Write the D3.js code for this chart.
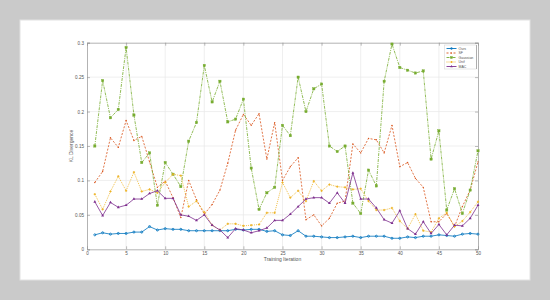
<!DOCTYPE html>
<html>
<head>
<meta charset="utf-8">
<script src="https://cdn.jsdelivr.net/npm/d3@7"></script>
<style>
  body { margin: 0; background: #cacaca; }
  svg { display: block; font-family: "Liberation Sans", Arial, sans-serif; }
</style>
</head>
<body>
<div id="chart"></div>
<script>
// iteration index 1..50
var iters = d3.range(1, 51);
var yTicks = [0, 0.05, 0.1, 0.15, 0.2, 0.25, 0.3];
var xTicks = [0, 5, 10, 15, 20, 25, 30, 35, 40, 45, 50];
var names = ["Ours", "SF", "Gaussian", "Unif", "MAC"];

var ours = [0.021,0.024,0.022,0.023,0.023,0.025,0.025,0.033,0.028,0.030,
            0.029,0.029,0.027,0.027,0.027,0.027,0.027,0.027,0.029,0.028,
            0.029,0.029,0.026,0.027,0.021,0.020,0.027,0.019,0.019,0.018,
            0.017,0.017,0.018,0.019,0.017,0.019,0.019,0.019,0.016,0.016,
            0.018,0.017,0.019,0.019,0.021,0.020,0.019,0.022,0.023,0.022];
var sf = [0.097,0.113,0.162,0.148,0.187,0.158,0.164,0.127,0.090,0.099,
          0.075,0.046,0.100,0.072,0.051,0.065,0.086,0.125,0.173,0.196,
          0.180,0.197,0.131,0.184,0.100,0.120,0.133,0.043,0.050,0.034,
          0.045,0.067,0.070,0.153,0.140,0.161,0.159,0.140,0.180,0.120,
          0.126,0.103,0.090,0.040,0.040,0.052,0.033,0.062,0.086,0.127];
var gauss = [0.150,0.245,0.191,0.203,0.293,0.195,0.126,0.140,0.064,0.126,
             0.109,0.091,0.157,0.184,0.267,0.214,0.244,0.185,0.189,0.218,
             0.118,0.058,0.082,0.090,0.180,0.165,0.250,0.200,0.233,0.240,
             0.150,0.142,0.150,0.067,0.052,0.115,0.092,0.244,0.298,0.264,
             0.260,0.256,0.259,0.131,0.172,0.057,0.088,0.052,0.086,0.143];
var unif = [0.080,0.058,0.084,0.106,0.085,0.112,0.084,0.087,0.082,0.097,
            0.109,0.107,0.062,0.070,0.054,0.035,0.028,0.037,0.037,0.034,
            0.035,0.036,0.053,0.053,0.097,0.075,0.085,0.070,0.099,0.085,
            0.094,0.091,0.090,0.087,0.088,0.070,0.057,0.057,0.060,0.041,
            0.030,0.051,0.027,0.025,0.045,0.053,0.033,0.041,0.054,0.069];
var mac = [0.069,0.049,0.068,0.061,0.064,0.073,0.073,0.081,0.085,0.074,
           0.074,0.050,0.048,0.042,0.050,0.035,0.028,0.017,0.030,0.028,
           0.024,0.027,0.031,0.042,0.042,0.051,0.062,0.073,0.075,0.075,
           0.067,0.082,0.067,0.111,0.073,0.073,0.060,0.043,0.038,0.056,
           0.030,0.022,0.040,0.023,0.036,0.021,0.035,0.034,0.045,0.064];

var series = [
  {name: names[0], vals: ours,  color: "#0072BD", dash: null,      marker: "circle"},
  {name: names[1], vals: sf,    color: "#D95319", dash: "2,1.5",   marker: "dot"},
  {name: names[2], vals: gauss, color: "#77AC30", dash: "3,1,1,1", marker: "square"},
  {name: names[3], vals: unif,  color: "#EDB120", dash: "1,1",     marker: "cross"},
  {name: names[4], vals: mac,   color: "#7E2F8E", dash: null,      marker: "triangle"}
];

var svg = d3.select("#chart").append("svg").attr("width", 550).attr("height", 300);
svg.append("rect").attr("width", 550).attr("height", 300).attr("fill", "#cacaca");
svg.append("rect").attr("x", 20).attr("y", 20).attr("width", 510).attr("height", 260)
   .attr("fill", "#fff").attr("stroke", "#e2e2e2");

var pLeft = 87, pRight = 478, pTop = 42.7, pBottom = 249.3;
var x = d3.scaleLinear().domain([0, 50]).range([pLeft, pRight]);
var y = d3.scaleLinear().domain([0, 0.3]).range([pBottom, pTop]);

// grid
var g = svg.append("g");
g.selectAll("line.vg").data(xTicks.slice(1, -1)).enter().append("line")
  .attr("x1", d => x(d)).attr("x2", d => x(d)).attr("y1", pTop).attr("y2", pBottom)
  .attr("stroke", "#e8e8e8").attr("stroke-width", 0.7);
g.selectAll("line.hg").data(yTicks.slice(1, -1)).enter().append("line")
  .attr("x1", pLeft).attr("x2", pRight).attr("y1", d => y(d)).attr("y2", d => y(d))
  .attr("stroke", "#e8e8e8").attr("stroke-width", 0.7);

// axes (MATLAB box style, ticks inward)
var xb = svg.append("g").attr("transform", "translate(0," + pBottom + ")")
  .call(d3.axisBottom(x).tickValues(xTicks).tickSize(-3).tickPadding(2).tickFormat(d3.format("d")));
var xt = svg.append("g").attr("transform", "translate(0," + pTop + ")")
  .call(d3.axisTop(x).tickValues(xTicks).tickSize(-3).tickFormat(""));
var yl = svg.append("g").attr("transform", "translate(" + pLeft + ",0)")
  .call(d3.axisLeft(y).tickValues(yTicks).tickSize(-3).tickPadding(3).tickFormat(d => d === 0 ? "0" : d3.format("")(d)));
var yr = svg.append("g").attr("transform", "translate(" + pRight + ",0)")
  .call(d3.axisRight(y).tickValues(yTicks).tickSize(-3).tickFormat(""));
[xb, xt, yl, yr].forEach(function(a) {
  a.selectAll(".domain").attr("stroke", "#a0a0a0").attr("stroke-width", 0.8);
  a.selectAll(".tick line").attr("stroke", "#909090").attr("stroke-width", 0.6);
  a.selectAll("text").attr("fill", "#555").attr("font-size", 4.6).attr("font-family", "Liberation Sans, Arial, sans-serif");
});

svg.append("text").attr("x", (pLeft + pRight) / 2).attr("y", 261.3)
  .attr("text-anchor", "middle").attr("font-size", 5).attr("fill", "#555")
  .text("Training Iteration");
svg.append("text").attr("transform", "translate(73," + ((pTop + pBottom) / 2) + ") rotate(-90)")
  .attr("text-anchor", "middle").attr("font-size", 5).attr("fill", "#555")
  .text("KL Divergence");

// lines + markers
var line = d3.line().x((d, i) => x(iters[i])).y(d => y(d));
function drawMarker(sel, type, color, px, py, s) {
  if (type === "circle") {
    sel.append("circle").attr("cx", px).attr("cy", py).attr("r", s * 0.45)
      .attr("fill", "none").attr("stroke", color).attr("stroke-width", 0.8);
  } else if (type === "dot") {
    sel.append("circle").attr("cx", px).attr("cy", py).attr("r", s * 0.3)
      .attr("fill", color);
  } else if (type === "square") {
    sel.append("rect").attr("x", px - s / 2).attr("y", py - s / 2).attr("width", s).attr("height", s)
      .attr("fill", color).attr("stroke", color).attr("stroke-width", 0.4);
  } else if (type === "cross") {
    sel.append("path").attr("d", "M" + (px - s / 2) + "," + py + "h" + s + "M" + px + "," + (py - s / 2) + "v" + s)
      .attr("stroke", color).attr("stroke-width", 0.9);
  } else if (type === "triangle") {
    sel.append("path").attr("d", d3.symbol().type(d3.symbolTriangle).size(s * s * 0.7)())
      .attr("transform", "translate(" + px + "," + py + ")")
      .attr("fill", color);
  }
}

series.forEach(function(s) {
  svg.append("path").datum(s.vals).attr("d", line)
    .attr("fill", "none").attr("stroke", s.color).attr("stroke-width", 0.8)
    .attr("stroke-dasharray", s.dash);
  var mg = svg.append("g");
  s.vals.forEach(function(v, i) {
    drawMarker(mg, s.marker, s.color, x(iters[i]), y(v), 2.3);
  });
});

// legend
var lg = svg.append("g").attr("transform", "translate(444.5,45)");
lg.append("rect").attr("width", 32).attr("height", 24).attr("fill", "#fff")
  .attr("stroke", "#d8d8d8").attr("stroke-width", 0.6);
lg.append("line").attr("x1", 32).attr("x2", 32).attr("y1", 0).attr("y2", 24)
  .attr("stroke", "#a0a0a0").attr("stroke-width", 0.8);
series.forEach(function(s, i) {
  var ly = 3.5 + i * 4.5;
  lg.append("line").attr("x1", 2).attr("x2", 12).attr("y1", ly).attr("y2", ly)
    .attr("stroke", s.color).attr("stroke-width", 0.9).attr("stroke-dasharray", s.dash);
  drawMarker(lg, s.marker, s.color, 7, ly, 2);
  lg.append("text").attr("x", 14).attr("y", ly + 1.3).attr("font-size", 3.5).attr("fill", "#555")
    .text(s.name);
});
</script>
</body>
</html>
